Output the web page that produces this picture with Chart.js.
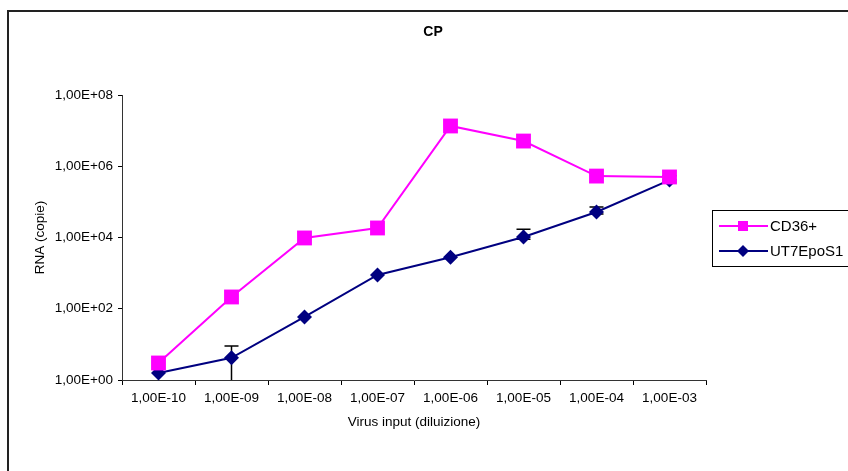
<!DOCTYPE html>
<html>
<head>
<meta charset="utf-8">
<script src="https://cdn.jsdelivr.net/npm/chart.js@4/dist/chart.umd.min.js"></script>
<style>
  body { margin: 0; background: #fff; }
  #chart { display: block; }
</style>
</head>
<body>
<canvas id="chart" width="848" height="471"></canvas>
<script>
// Chart data
const dilutions = ['1,00E-10', '1,00E-09', '1,00E-08', '1,00E-07', '1,00E-06', '1,00E-05', '1,00E-04', '1,00E-03'];
const cd36Values = [3.0, 214, 9700, 18500, 1.35e7, 5.1e6, 5.3e5, 5.0e5];
const ut7Values = [1.57, 4.2, 59, 890, 2800, 10300, 52000, 410000];
const ut7ErrHigh = [null, 9, null, null, null, 17000, 72000, 540000];
const ut7ErrLow = [null, 0.1, null, null, null, 9000, 46000, 360000];
const yTicks = [1, 1e2, 1e4, 1e6, 1e8];

const FONT = '"Liberation Sans", Arial, sans-serif';

// Border, title, legend and error bars
const extras = {
    id: 'extras',
    beforeDatasetsDraw(chart) {
        const ctx = chart.ctx;
        const x = chart.scales.x;
        const y = chart.scales.y;
        const area = chart.chartArea;
        ctx.save();
        ctx.strokeStyle = '#000';
        ctx.lineWidth = 1.5;
        ut7ErrHigh.forEach((hi, i) => {
            if (hi === null) return;
            const px = x.getPixelForValue(i);
            const top = y.getPixelForValue(hi);
            const bottom = Math.min(y.getPixelForValue(ut7ErrLow[i]), area.bottom);
            ctx.beginPath();
            ctx.moveTo(px, top);
            ctx.lineTo(px, bottom);
            ctx.moveTo(px - 7, top);
            ctx.lineTo(px + 7, top);
            if (bottom < area.bottom) {
                ctx.moveTo(px - 7, bottom);
                ctx.lineTo(px + 7, bottom);
            }
            ctx.stroke();
        });
        ctx.restore();
    },
    afterDraw(chart) {
        const ctx = chart.ctx;
        ctx.save();

        // outer frame
        ctx.strokeStyle = '#222';
        ctx.lineWidth = 2;
        ctx.strokeRect(8, 11, 900, 520);

        // title
        ctx.fillStyle = '#000';
        ctx.font = 'bold 14px ' + FONT;
        ctx.textAlign = 'center';
        ctx.textBaseline = 'middle';
        ctx.fillText('CP', 433, 32);

        // legend
        ctx.lineWidth = 1;
        ctx.strokeStyle = '#000';
        ctx.strokeRect(712.5, 210.5, 200, 56);
        const items = [
            { label: 'CD36+', color: '#FF00FF', shape: 'rect', y: 226 },
            { label: 'UT7EpoS1', color: '#000080', shape: 'diamond', y: 251 }
        ];
        items.forEach(item => {
            ctx.strokeStyle = item.color;
            ctx.fillStyle = item.color;
            ctx.lineWidth = 2;
            ctx.beginPath();
            ctx.moveTo(719, item.y);
            ctx.lineTo(768, item.y);
            ctx.stroke();
            ctx.beginPath();
            if (item.shape === 'rect') {
                ctx.rect(738, item.y - 5, 10, 10);
            } else {
                ctx.moveTo(743, item.y - 6);
                ctx.lineTo(749, item.y);
                ctx.lineTo(743, item.y + 6);
                ctx.lineTo(737, item.y);
                ctx.closePath();
            }
            ctx.fill();
            ctx.fillStyle = '#000';
            ctx.font = '15px ' + FONT;
            ctx.textAlign = 'left';
            ctx.textBaseline = 'middle';
            ctx.fillText(item.label, 770, item.y + 1);
        });
        ctx.restore();
    }
};

new Chart(document.getElementById('chart'), {
    type: 'line',
    data: {
        labels: dilutions,
        datasets: [
            {
                label: 'CD36+',
                data: cd36Values,
                borderColor: '#FF00FF',
                backgroundColor: '#FF00FF',
                borderWidth: 2,
                pointStyle: 'rect',
                pointRadius: 10.5,
                pointBorderWidth: 0,
                tension: 0
            },
            {
                label: 'UT7EpoS1',
                data: ut7Values,
                borderColor: '#000080',
                backgroundColor: '#000080',
                borderWidth: 2,
                pointStyle: 'rectRot',
                pointRadius: 7.5,
                pointBorderWidth: 0,
                tension: 0
            }
        ]
    },
    options: {
        responsive: false,
        animation: false,
        clip: false,
        layout: {
            padding: { left: 32, right: 142, top: 95, bottom: 41 }
        },
        plugins: {
            legend: { display: false },
            title: { display: false },
            tooltip: { enabled: false }
        },
        scales: {
            x: {
                type: 'category',
                offset: true,
                grid: {
                    offset: true,
                    drawOnChartArea: false,
                    color: '#000',
                    tickLength: 5
                },
                border: { display: true, color: '#333', width: 1 },
                ticks: {
                    color: '#000',
                    padding: 5,
                    maxRotation: 0,
                    autoSkip: false,
                    font: { family: FONT, size: 13.5 }
                },
                title: {
                    display: true,
                    text: 'Virus input (diluizione)',
                    color: '#000',
                    padding: 0,
                    font: { family: FONT, size: 13.5 }
                },
                afterFit(scale) {
                    scale.height = 50;
                }
            },
            y: {
                type: 'logarithmic',
                min: 1,
                max: 1e8,
                afterBuildTicks(scale) {
                    scale.ticks = yTicks.map(v => ({ value: v }));
                },
                grid: {
                    drawOnChartArea: false,
                    color: '#000',
                    tickLength: 4
                },
                border: { display: true, color: '#333', width: 1 },
                ticks: {
                    color: '#000',
                    padding: 5,
                    font: { family: FONT, size: 13.5 },
                    callback: v => '1,00E+' + String(Math.round(Math.log10(v))).padStart(2, '0')
                },
                title: {
                    display: true,
                    text: 'RNA (copie)',
                    color: '#000',
                    padding: 0,
                    font: { family: FONT, size: 13.5 }
                },
                afterFit(scale) {
                    scale.width = 90;
                }
            }
        }
    },
    plugins: [extras]
});
</script>
</body>
</html>
